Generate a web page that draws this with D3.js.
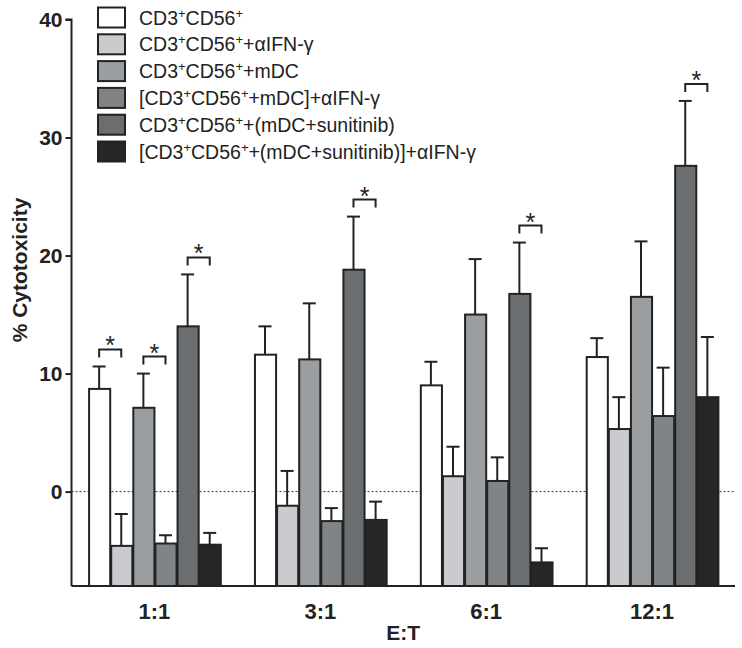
<!DOCTYPE html>
<html>
<head>
<meta charset="utf-8">
<script src="https://cdn.jsdelivr.net/npm/d3@7"></script>
<style>
  html, body { margin: 0; padding: 0; background: #ffffff; }
  svg { display: block; }
</style>
</head>
<body>
<script>
// ---------- DATA ----------
const categories = ["1:1", "3:1", "6:1", "12:1"];
const seriesNames = [
  "CD3^+CD56^+",
  "CD3^+CD56^++\u03b1IFN-\u03b3",
  "CD3^+CD56^++mDC",
  "[CD3^+CD56^++mDC]+\u03b1IFN-\u03b3",
  "CD3^+CD56^++(mDC+sunitinib)",
  "[CD3^+CD56^++(mDC+sunitinib)]+\u03b1IFN-\u03b3"
];
const seriesColors = ["#ffffff", "#c9cbcf", "#9a9ea1", "#808487", "#6a6e70", "#262626"];

// mean values per series across categories
const valCD3 = [8.7, 11.6, 9.0, 11.4];
const valCD3aIFN = [-4.6, -1.2, 1.3, 5.3];
const valCD3mDC = [7.1, 11.2, 15.0, 16.5];
const valCD3mDCaIFN = [-4.4, -2.5, 0.9, 6.4];
const valCD3mDCsun = [14.0, 18.8, 16.75, 27.6];
const valCD3mDCsunaIFN = [-4.5, -2.4, -6.0, 8.0];

// error (upper) per series
const errCD3 = [1.9, 2.4, 2.0, 1.6];
const errCD3aIFN = [2.7, 2.95, 2.5, 2.7];
const errCD3mDC = [2.9, 4.75, 4.7, 4.7];
const errCD3mDCaIFN = [0.7, 1.1, 2.0, 4.1];
const errCD3mDCsun = [4.4, 4.5, 4.35, 5.5];
const errCD3mDCsunaIFN = [1.0, 1.55, 1.2, 5.1];

const yTicks = [0, 10, 20, 30, 40];
const yDomain = [-8, 40];

// significance brackets: category, series index a, series index b
const sigGroups = ["1:1", "1:1", "1:1", "3:1", "6:1", "12:1"];
const sigFrom = [0, 2, 4, 4, 4, 4];
const sigTo = [1, 3, 5, 5, 5, 5];

const yLabel = "% Cytotoxicity";
const xLabel = "E:T";

// ---------- BUILD ----------
const values = [valCD3, valCD3aIFN, valCD3mDC, valCD3mDCaIFN, valCD3mDCsun, valCD3mDCsunaIFN];
const errors = [errCD3, errCD3aIFN, errCD3mDC, errCD3mDCaIFN, errCD3mDCsun, errCD3mDCsunaIFN];

const W = 742, H = 648;
const mL = 71.5, mR = 735, mT = 19.5, mB = 586;
const ink = "#222222";
const font = "'Liberation Sans', Arial, Helvetica, sans-serif";

const svg = d3.select("body").append("svg").attr("width", W).attr("height", H);

const x0 = d3.scaleBand().domain(categories).range([mL, mR]).paddingInner(0.2).paddingOuter(0.1);
const x1 = d3.scaleBand().domain(d3.range(seriesNames.length)).range([0, x0.bandwidth()]).padding(0);
const y = d3.scaleLinear().domain(yDomain).range([mB, mT]);

// zero dotted line
svg.append("line")
  .attr("x1", mL).attr("x2", mR)
  .attr("y1", y(0)).attr("y2", y(0))
  .attr("stroke", "#333").attr("stroke-width", 1)
  .attr("stroke-dasharray", "2,2");

const data = [];
categories.forEach((c, ci) => {
  values.forEach((arr, si) => {
    data.push({cat: c, si: si, v: arr[ci], e: errors[si][ci]});
  });
});

// error bars
const eg = svg.append("g");
data.forEach(d => {
  const cx = x0(d.cat) + x1(d.si) + x1.bandwidth() / 2;
  eg.append("line").attr("x1", cx).attr("x2", cx)
    .attr("y1", y(d.v)).attr("y2", y(d.v + d.e))
    .attr("stroke", ink).attr("stroke-width", 2);
  eg.append("line").attr("x1", cx - 6.5).attr("x2", cx + 6.5)
    .attr("y1", y(d.v + d.e)).attr("y2", y(d.v + d.e))
    .attr("stroke", ink).attr("stroke-width", 2);
});

// bars (drawn from axis floor up to value)
svg.append("g").selectAll("rect").data(data).join("rect")
  .attr("x", d => x0(d.cat) + x1(d.si) + 1)
  .attr("width", x1.bandwidth() - 1)
  .attr("y", d => y(d.v))
  .attr("height", d => y(yDomain[0]) - y(d.v))
  .attr("fill", d => seriesColors[d.si])
  .attr("stroke", ink).attr("stroke-width", 2);

// significance brackets
const sg = svg.append("g");
sigGroups.forEach((c, i) => {
  const a = sigFrom[i], b = sigTo[i];
  const ci = categories.indexOf(c);
  const xa = x0(c) + x1(a) + x1.bandwidth() / 2;
  const xb = x0(c) + x1(b) + x1.bandwidth() / 2;
  const topA = y(values[a][ci] + errors[a][ci]);
  const topB = y(values[b][ci] + errors[b][ci]);
  const by = Math.min(topA, topB) - 17;
  sg.append("path")
    .attr("d", `M${xa},${by + 8}V${by}H${xb}V${by + 8}`)
    .attr("fill", "none").attr("stroke", ink).attr("stroke-width", 2);
  sg.append("text")
    .attr("x", (xa + xb) / 2).attr("y", by + 5)
    .attr("text-anchor", "middle")
    .attr("font-family", font).attr("font-size", 25)
    .attr("fill", ink).text("*");
});

// axes
const yAxis = d3.axisLeft(y).tickValues(yTicks).tickSize(6).tickPadding(3).tickFormat(d3.format("d"));
const yAx = svg.append("g").attr("transform", `translate(${mL},0)`).call(yAxis);
yAx.select(".domain").attr("d", `M-6,${mT}H0V${mB}`).attr("stroke", ink).attr("stroke-width", 2);
yAx.selectAll(".tick line").attr("stroke", ink).attr("stroke-width", 2);
yAx.selectAll(".tick text").attr("font-family", font).attr("font-size", 21)
  .attr("font-weight", "bold").attr("fill", ink);

const xAxis = d3.axisBottom(x0).tickSize(0).tickPadding(17);
const xAx = svg.append("g").attr("transform", `translate(0,${mB})`).call(xAxis);
xAx.select(".domain").attr("d", `M${mL},0H${mR}`).attr("stroke", ink).attr("stroke-width", 2);
xAx.selectAll(".tick text").attr("font-family", font).attr("font-size", 22)
  .attr("font-weight", "bold").attr("fill", ink);

// axis titles
svg.append("text")
  .attr("transform", `translate(27,${270}) rotate(-90)`)
  .attr("text-anchor", "middle")
  .attr("font-family", font).attr("font-size", 21).attr("font-weight", "bold")
  .attr("fill", ink).text(yLabel);

svg.append("text")
  .attr("x", (mL + mR) / 2).attr("y", 640)
  .attr("text-anchor", "middle")
  .attr("font-family", font).attr("font-size", 21).attr("font-weight", "bold")
  .attr("fill", ink).text(xLabel);

// legend
const lg = svg.append("g");
seriesNames.forEach((name, i) => {
  const cy = 17.5 + i * 26.8;
  lg.append("rect")
    .attr("x", 98).attr("y", cy - 10).attr("width", 27).attr("height", 20)
    .attr("fill", seriesColors[i]).attr("stroke", ink).attr("stroke-width", 2);
  const t = lg.append("text")
    .attr("x", 139).attr("y", cy + 7)
    .attr("font-family", font).attr("font-size", 19.5).attr("fill", ink);
  const parts = name.split("^+");
  let pendingDy = 0;
  parts.forEach((p, pi) => {
    if (p.length) {
      const ts = t.append("tspan").text(p);
      if (pendingDy) { ts.attr("dy", pendingDy); pendingDy = 0; }
    }
    if (pi < parts.length - 1) {
      t.append("tspan").attr("font-size", 13).attr("dy", -7).text("+");
      pendingDy = 7;
    }
  });
});
</script>
</body>
</html>
